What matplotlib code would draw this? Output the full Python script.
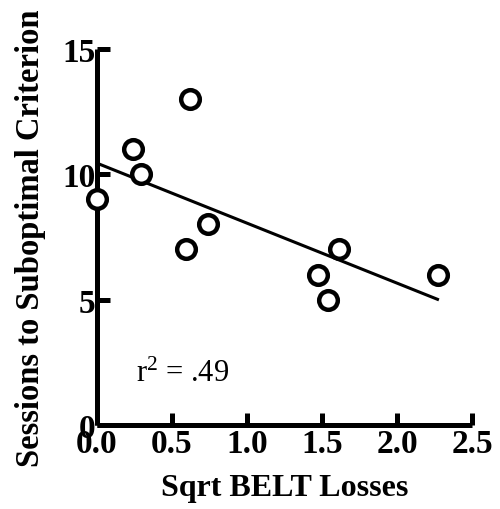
import numpy as np
import matplotlib
matplotlib.use("Agg")
import matplotlib.pyplot as plt

plt.rcParams['font.family'] = ['Liberation Serif', 'DejaVu Serif']
plt.rcParams['mathtext.fontset'] = 'custom'
plt.rcParams['mathtext.rm'] = 'Liberation Serif'
plt.rcParams['mathtext.default'] = 'regular'

# data
sqrt_belt_losses = [0.0, 0.24, 0.29, 0.62, 0.59, 0.74, 1.47, 1.54, 1.61, 2.27]
sessions = [9, 11, 10, 13, 7, 8, 6, 5, 7, 6]
x_ticks = [0.0, 0.5, 1.0, 1.5, 2.0, 2.5]
y_ticks = [0, 5, 10, 15]
r2_label = "r$^2$ = .49"

fig = plt.figure(figsize=(5, 5.1), dpi=100)
ax = fig.add_axes([0.194, 0.165, 0.75, 0.737])

# regression line over the data range
slope, intercept = np.polyfit(sqrt_belt_losses, sessions, 1)
xl = np.array([min(sqrt_belt_losses), max(sqrt_belt_losses)])
ax.plot(xl, intercept + slope * xl, color='black', lw=2.2, zorder=2)

ax.scatter(sqrt_belt_losses, sessions, s=180, facecolors='white',
           edgecolors='black', linewidths=3.2, zorder=3, clip_on=False)

ax.text(0.26, 1.75, r2_label, fontsize=22)

ax.set_xlim(0, 2.5)
ax.set_ylim(0, 15)
ax.set_xticks(x_ticks)
ax.set_xticklabels([f"{t:.1f}" for t in x_ticks])
ax.set_yticks(y_ticks)

for s in ['top', 'right']:
    ax.spines[s].set_visible(False)
for s in ['left', 'bottom']:
    ax.spines[s].set_linewidth(3.6)
    ax.spines[s].set_capstyle('butt')

ax.tick_params(direction='in', length=9, width=3.6, labelsize=24)
ax.tick_params(axis='y', pad=1)
ax.tick_params(axis='x', pad=2)
for lab in ax.get_xticklabels() + ax.get_yticklabels():
    lab.set_fontweight('bold')

ax.set_xlabel('Sqrt BELT Losses', fontsize=23, fontweight='bold', labelpad=10)
ax.set_ylabel('Sessions to Suboptimal Criterion', fontsize=23.5, fontweight='bold', labelpad=12)

fig.savefig('out.png', dpi=100)
